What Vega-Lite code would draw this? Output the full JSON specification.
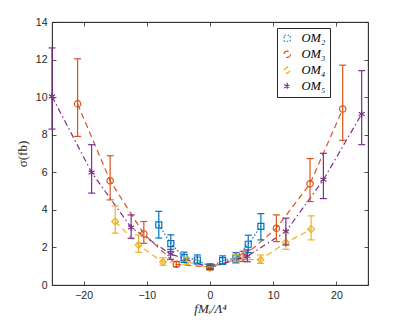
{
  "$schema": "https://vega.github.io/schema/vega-lite/v6.json",
  "width": 316,
  "height": 263,
  "autosize": {"type": "none"},
  "padding": {"left": 52, "top": 22, "right": 39, "bottom": 41},
  "background": "white",
  "config": {
    "view": {"stroke": "#262626", "strokeWidth": 0.8},
    "axis": {
      "domainColor": "#262626",
      "domainWidth": 0.8,
      "tickColor": "#262626",
      "tickWidth": 0.8,
      "tickSize": -4,
      "labelColor": "#262626",
      "labelFont": "Liberation Sans",
      "labelFontSize": 10.5,
      "labelPadding": 9,
      "grid": false,
      "titleColor": "#262626",
      "titleFont": "Liberation Serif",
      "titleFontWeight": "normal",
      "titleFontSize": 13
    },
    "legend": {
      "orient": "none",
      "legendX": 225,
      "legendY": 6,
      "fillColor": "white",
      "strokeColor": "#262626",
      "padding": 4,
      "labelFont": "Liberation Serif",
      "labelFontStyle": "italic",
      "labelFontWeight": "normal",
      "labelFontSize": 12.5,
      "labelColor": "#000000",
      "labelOffset": 8,
      "rowPadding": 3,
      "symbolStrokeWidth": 1.2,
      "symbolSize": 45
    }
  },
  "data": {
    "values": [
      {"s": "OM₂", "x": -8.1, "y": 3.2, "lo": 2.5, "hi": 3.92},
      {"s": "OM₂", "x": -6.2, "y": 2.2, "lo": 1.78, "hi": 2.67},
      {"s": "OM₂", "x": -4.1, "y": 1.47, "lo": 1.2, "hi": 1.75},
      {"s": "OM₂", "x": -2.0, "y": 1.33, "lo": 1.12, "hi": 1.6},
      {"s": "OM₂", "x": 0, "y": 0.97, "lo": 0.85, "hi": 1.1},
      {"s": "OM₂", "x": 2.0, "y": 1.3, "lo": 1.1, "hi": 1.55},
      {"s": "OM₂", "x": 4.1, "y": 1.43, "lo": 1.18, "hi": 1.72},
      {"s": "OM₂", "x": 6.05, "y": 2.17, "lo": 1.72, "hi": 2.65},
      {"s": "OM₂", "x": 8.05, "y": 3.12, "lo": 2.4, "hi": 3.8},
      {"s": "OM₃", "x": -20.95, "y": 9.64, "lo": 7.91, "hi": 12.04},
      {"s": "OM₃", "x": -15.8, "y": 5.55, "lo": 4.53, "hi": 6.88},
      {"s": "OM₃", "x": -10.47, "y": 2.72, "lo": 2.22, "hi": 3.38},
      {"s": "OM₃", "x": -5.33, "y": 1.1, "lo": 0.98, "hi": 1.25},
      {"s": "OM₃", "x": 0, "y": 0.95, "lo": 0.85, "hi": 1.05},
      {"s": "OM₃", "x": 5.24, "y": 1.5, "lo": 1.25, "hi": 1.8},
      {"s": "OM₃", "x": 10.5, "y": 3.02, "lo": 2.31, "hi": 3.73},
      {"s": "OM₃", "x": 15.83, "y": 5.39, "lo": 4.44, "hi": 6.73},
      {"s": "OM₃", "x": 21.0, "y": 9.37, "lo": 7.7, "hi": 11.7},
      {"s": "OM₄", "x": -15.0, "y": 3.38, "lo": 2.76, "hi": 4.21},
      {"s": "OM₄", "x": -11.3, "y": 2.13, "lo": 1.74, "hi": 2.67},
      {"s": "OM₄", "x": -7.46, "y": 1.22, "lo": 1.05, "hi": 1.45},
      {"s": "OM₄", "x": -3.75, "y": 1.25, "lo": 1.08, "hi": 1.48},
      {"s": "OM₄", "x": 0, "y": 0.9, "lo": 0.8, "hi": 1.0},
      {"s": "OM₄", "x": 4.05, "y": 1.35, "lo": 1.15, "hi": 1.6},
      {"s": "OM₄", "x": 8.0, "y": 1.35, "lo": 1.15, "hi": 1.6},
      {"s": "OM₄", "x": 12.0, "y": 2.26, "lo": 1.9, "hi": 2.75},
      {"s": "OM₄", "x": 16.0, "y": 2.97, "lo": 2.4, "hi": 3.68},
      {"s": "OM₅", "x": -25.0, "y": 10.04, "lo": 8.3, "hi": 12.62},
      {"s": "OM₅", "x": -18.73, "y": 5.99, "lo": 4.89, "hi": 7.47},
      {"s": "OM₅", "x": -12.48, "y": 3.06, "lo": 2.49, "hi": 3.73},
      {"s": "OM₅", "x": -6.24, "y": 1.65, "lo": 1.37, "hi": 1.9},
      {"s": "OM₅", "x": 0, "y": 0.93, "lo": 0.83, "hi": 1.03},
      {"s": "OM₅", "x": 5.9, "y": 1.53, "lo": 1.24, "hi": 1.87},
      {"s": "OM₅", "x": 12.0, "y": 2.84, "lo": 2.13, "hi": 3.56},
      {"s": "OM₅", "x": 17.94, "y": 5.6, "lo": 4.6, "hi": 7.01},
      {"s": "OM₅", "x": 24.0, "y": 9.1, "lo": 7.47, "hi": 11.41}
    ]
  },
  "resolve": {"axis": {"x": "independent", "y": "independent"}},
  "layer": [
    {
      "encoding": {
        "x": {
          "field": "x", "type": "quantitative",
          "scale": {"domain": [-25, 25], "nice": false, "zero": false},
          "axis": {"values": [-20, -10, 0, 10, 20], "title": "fMᵢ/Λ⁴", "titleFontStyle": "italic", "titlePadding": 2}
        },
        "y": {
          "field": "y", "type": "quantitative",
          "scale": {"domain": [0, 14], "nice": false},
          "axis": {"values": [0, 2, 4, 6, 8, 10, 12, 14], "title": "σ(fb)", "titlePadding": 6}
        },
        "color": {
          "field": "s", "type": "nominal",
          "scale": {"domain": ["OM₂", "OM₃", "OM₄", "OM₅"], "range": ["#0072BD", "#D95319", "#EDB120", "#7E2F8E"]},
          "legend": {"title": null}
        }
      },
      "layer": [
        {
          "mark": {"type": "point", "filled": false, "strokeWidth": 1.2, "opacity": 1},
          "encoding": {
            "shape": {
              "field": "s", "type": "nominal",
              "scale": {"domain": ["OM₂", "OM₃", "OM₄", "OM₅"], "range": ["square", "circle", "diamond", "M0,-1L0,1M-0.87,-0.5L0.87,0.5M-0.87,0.5L0.87,-0.5"]},
              "legend": {"title": null}
            },
            "size": {"field": "s", "type": "nominal", "scale": {"domain": ["OM₂", "OM₃", "OM₄", "OM₅"], "range": [36, 50, 45, 30]}, "legend": null}
          }
        },
        {
          "mark": {"type": "line", "strokeWidth": 1.2, "clip": true},
          "encoding": {
            "strokeDash": {
              "field": "s", "type": "nominal",
              "scale": {"domain": ["OM₂", "OM₃", "OM₄", "OM₅"], "range": [[1.5, 2], [6, 4], [6, 4], [6, 3, 1.5, 3]]},
              "legend": null
            }
          }
        },
        {
          "mark": {"type": "rule", "strokeWidth": 1.2},
          "encoding": {"y": {"field": "lo", "type": "quantitative"}, "y2": {"field": "hi"}}
        },
        {
          "mark": {"type": "rule", "strokeWidth": 1.2, "xOffset": -3.5, "x2Offset": 3.5},
          "encoding": {"x2": {"field": "x"}, "y": {"field": "lo", "type": "quantitative"}}
        },
        {
          "mark": {"type": "rule", "strokeWidth": 1.2, "xOffset": -3.5, "x2Offset": 3.5},
          "encoding": {"x2": {"field": "x"}, "y": {"field": "hi", "type": "quantitative"}}
        }
      ]
    },
    {
      "mark": {"type": "point", "opacity": 0},
      "encoding": {
        "x": {"field": "x", "type": "quantitative", "axis": {"orient": "top", "values": [-20, -10, 0, 10, 20], "labels": false, "title": null}},
        "y": {"field": "y", "type": "quantitative", "axis": {"orient": "right", "values": [0, 2, 4, 6, 8, 10, 12, 14], "labels": false, "title": null}}
      }
    }
  ]
}
